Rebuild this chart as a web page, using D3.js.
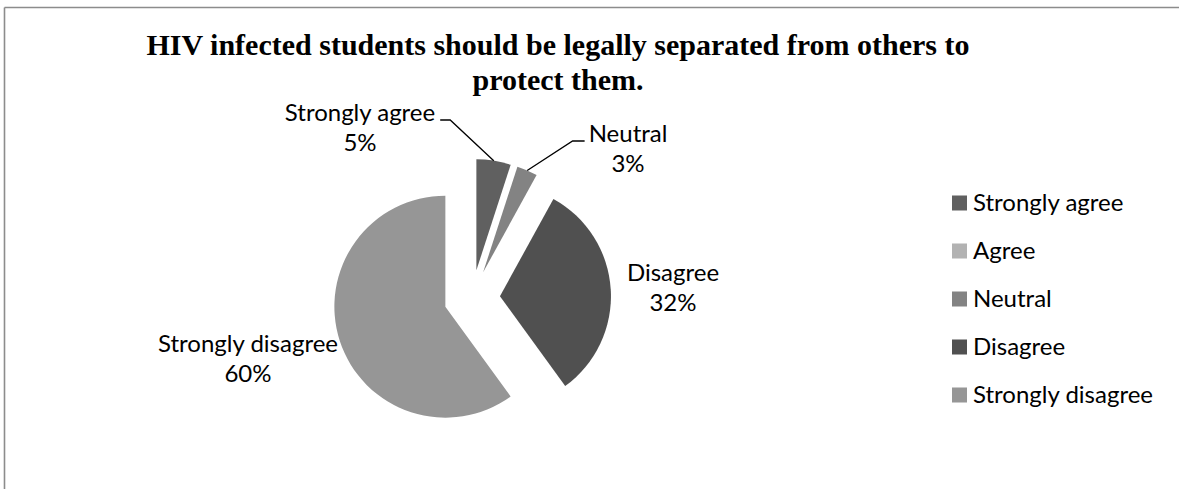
<!DOCTYPE html>
<html>
<head>
<meta charset="utf-8">
<script src="https://cdn.jsdelivr.net/npm/d3@7"></script>
<style>
  html, body { margin: 0; padding: 0; background: #fff; overflow: hidden; }
  svg { display: block; }
</style>
</head>
<body>
<svg id="chart" width="1179" height="489"></svg>
<script>
// Survey responses (percent of students)
const categories = ["Strongly agree", "Agree", "Neutral", "Disagree", "Strongly disagree"];
const values = [5, 0, 3, 32, 60];
const colors = ["#606060", "#b2b2b2", "#838383", "#505050", "#969696"];
const titleLines = ["HIV infected students should be legally separated from others to", "protect them."];

const svg = d3.select("#chart");
const W = 1179, H = 489;
const labelFont = "Lato, 'Open Sans', sans-serif";

// chart frame: top and left edges (the rest runs off the page)
const frame = svg.append("g").attr("stroke", "#8c8c8c").attr("stroke-width", 1.6);
frame.append("line").attr("x1", 4.5).attr("y1", 7.5).attr("x2", W).attr("y2", 7.5);
frame.append("line").attr("x1", 4.5).attr("y1", 7.5).attr("x2", 4.5).attr("y2", H);

// title
svg.append("text")
  .attr("font-family", "'Liberation Serif', 'Times New Roman', serif")
  .attr("font-weight", "bold")
  .attr("font-size", 30)
  .attr("text-anchor", "middle")
  .selectAll("tspan").data(titleLines).join("tspan")
  .attr("x", 558)
  .attr("y", (d, i) => 55 + i * 35)
  .text(d => d);

// pie
const cx = 472, cy = 298, radius = 111, explode = 28;
const pie = d3.pie().sort(null).value(d => d.value);
const arcs = pie(categories.map((c, i) => ({ cat: c, value: values[i], color: colors[i] })));
const arc = d3.arc().innerRadius(0).outerRadius(radius);

const g = svg.append("g").attr("transform", `translate(${cx},${cy})`);
g.selectAll("path").data(arcs.filter(a => a.data.value > 0)).join("path")
  .attr("transform", a => {
    const m = (a.startAngle + a.endAngle) / 2;
    return `translate(${explode * Math.sin(m)},${-explode * Math.cos(m)})`;
  })
  .attr("d", arc)
  .attr("fill", a => a.data.color);

// data labels: centre x and first baseline, plus optional leader line
const labelPos = {
  "Strongly agree": { x: 360, y: 121, leader: true, side: "right" },
  "Neutral": { x: 628, y: 142, leader: true, side: "left" },
  "Disagree": { x: 673, y: 281 },
  "Strongly disagree": { x: 248, y: 352 }
};

const labels = svg.append("g").attr("font-family", labelFont).attr("font-size", 24).attr("fill", "#000");
arcs.filter(a => a.data.value > 0).forEach(a => {
  const p = labelPos[a.data.cat];
  const t = labels.append("text").attr("text-anchor", "middle");
  t.append("tspan").attr("x", p.x).attr("y", p.y).text(a.data.cat);
  t.append("tspan").attr("x", p.x).attr("dy", 30).text(a.data.value + "%");
  if (p.leader) {
    const w = t.select("tspan").node().getComputedTextLength();
    const m = (a.startAngle + a.endAngle) / 2;
    const ex = cx + explode * Math.sin(m) + radius * Math.sin(m);
    const ey = cy - explode * Math.cos(m) - radius * Math.cos(m);
    const lx = p.side === "right" ? p.x + w / 2 + 5 : p.x - w / 2 - 4;
    const bx = p.side === "right" ? lx + 10 : lx - 12;
    const ly = p.y - 1;
    svg.append("path")
      .attr("d", `M${lx},${ly} L${bx},${ly} L${ex},${ey}`)
      .attr("fill", "none").attr("stroke", "#000").attr("stroke-width", 1.3);
  }
});

// legend
const legend = svg.append("g").attr("font-family", labelFont).attr("font-size", 24);
const rowY = d3.scalePoint().domain(categories).range([203, 395]);
categories.forEach((c, i) => {
  legend.append("rect")
    .attr("x", 952).attr("y", rowY(c) - 7.5)
    .attr("width", 15).attr("height", 15)
    .attr("fill", colors[i]);
  legend.append("text")
    .attr("x", 973).attr("y", rowY(c))
    .attr("dy", "0.35em")
    .text(c);
});
</script>
</body>
</html>
